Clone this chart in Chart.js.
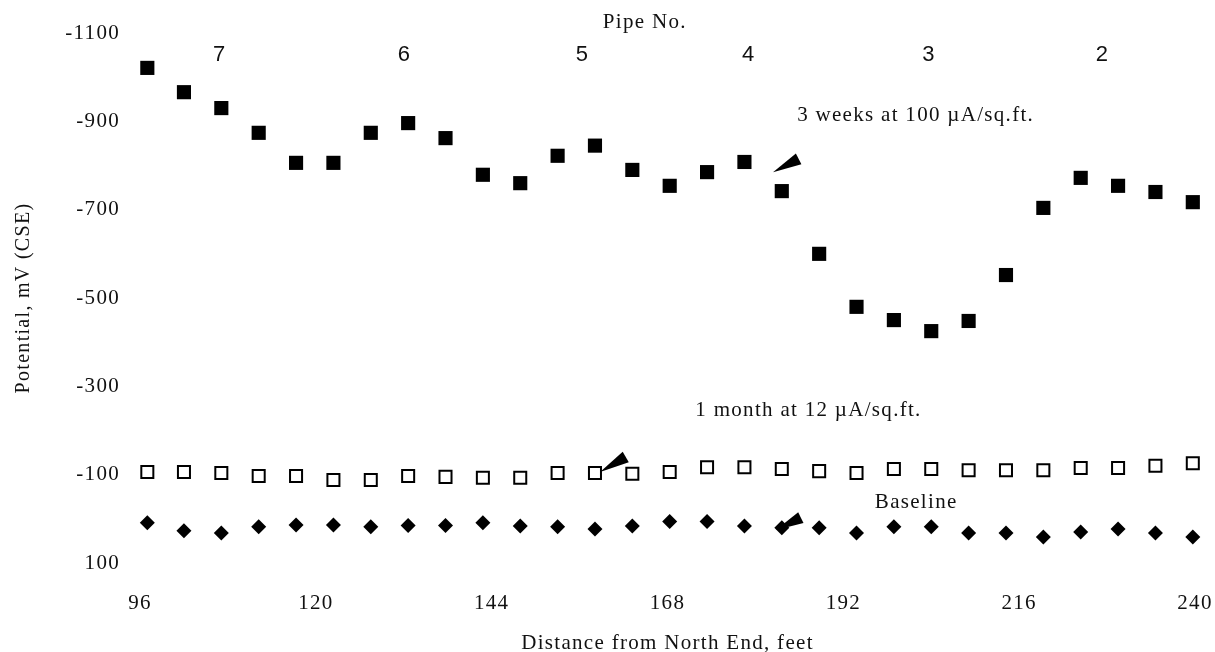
<!DOCTYPE html>
<html>
<head>
<meta charset="utf-8">
<script src="https://cdn.jsdelivr.net/npm/chart.js@4.4.1/dist/chart.umd.min.js"></script>
<style>
  html, body { margin: 0; background: #fff; }
  #wrap { width: 1215px; height: 652px; }
</style>
</head>
<body>
<div id="wrap"><canvas id="chart"></canvas></div>
<script>
// distance from north end (ft) for each reading
const distance = [97, 102, 107.1, 112.2, 117.3, 122.4, 127.5, 132.6, 137.7, 142.8,
                  147.9, 153, 158.1, 163.2, 168.3, 173.4, 178.5, 183.6, 188.7, 193.8,
                  198.9, 204, 209.1, 214.2, 219.3, 224.4, 229.5, 234.6, 239.7];

// potentials, mV (CSE)
const weeks3 = [-1021, -966, -930, -874, -806, -806, -874, -896, -862, -779,
                -760, -822, -845, -790, -754, -785, -808, -742, -600, -480,
                -450, -425, -448, -552, -704, -772, -754, -740, -717];
const month1 = [-106, -106, -104, -97, -97, -88, -88, -97, -95, -93,
                -93, -104, -104, -102, -106, -117, -117, -113, -108, -104,
                -113, -113, -110, -110, -110, -115, -115, -120, -126];
const baseline = [9, 27, 32, 18, 14, 14, 18, 15, 15, 9,
                  16, 18, 23, 16, 6, 6, 16, 20, 20, 32,
                  18, 18, 32, 32, 41, 30, 23, 32, 41];

// pipe numbers along the top
const pipeNos = ['7', '6', '5', '4', '3', '2'];
const pipeCentres = [106.8, 132, 156.3, 179, 203.6, 227.3];

// 🟢 text notes and arrowheads, in data units
const notes = [
  { text: '3 weeks at 100 \u00b5A/sq.ft.', x: 185.7, y: -914 },
  { text: '1 month at 12 \u00b5A/sq.ft.', x: 171.8, y: -246 },
  { text: 'Baseline', x: 196.3, y: -38 }
];
const arrows = [
  { from: [185.9, -815], to: [182.4, -785] },
  { from: [162.3, -140], to: [158.8, -106] },
  { from: [186.2, -3], to: [182.8, 25] }
];

const serif = '"Liberation Serif", "Times New Roman", serif';
const sans = '"Liberation Sans", Arial, sans-serif';
const spacing = '1.3px';

function toPoints(ys) {
  return ys.map((y, i) => ({ x: distance[i], y }));
}

// 🟢 the scanned figure has wide serif lettering
const spacingPlugin = {
  id: 'spacing',
  beforeUpdate(chart) { chart.ctx.letterSpacing = spacing; },
  beforeDraw(chart) { chart.ctx.letterSpacing = spacing; }
};

// 🟢 draws pipe numbers, notes and arrows over the plot
const notesPlugin = {
  id: 'notes',
  afterDraw(chart) {
    const { ctx, scales: { x, y } } = chart;
    ctx.save();
    ctx.fillStyle = '#111';
    ctx.textBaseline = 'middle';

    ctx.font = '21px ' + serif;
    ctx.textAlign = 'center';
    ctx.fillText('Pipe No.', x.getPixelForValue(164.9), y.getPixelForValue(-1123));

    ctx.letterSpacing = '0px';
    ctx.font = '22px ' + sans;
    pipeNos.forEach((n, i) => {
      ctx.fillText(n, x.getPixelForValue(pipeCentres[i]), y.getPixelForValue(-1050));
    });

    ctx.letterSpacing = spacing;
    ctx.font = '21px ' + serif;
    ctx.textAlign = 'left';
    notes.forEach(n => {
      ctx.fillText(n.text, x.getPixelForValue(n.x), y.getPixelForValue(n.y));
    });

    ctx.fillStyle = '#000';
    arrows.forEach(a => {
      const x0 = x.getPixelForValue(a.from[0]), y0 = y.getPixelForValue(a.from[1]);
      const x1 = x.getPixelForValue(a.to[0]), y1 = y.getPixelForValue(a.to[1]);
      const ang = Math.atan2(y1 - y0, x1 - x0);
      const len = Math.hypot(x1 - x0, y1 - y0);
      const half = 6;
      const bx = x1 - Math.cos(ang) * len, by = y1 - Math.sin(ang) * len;
      ctx.beginPath();
      ctx.moveTo(x1, y1);
      ctx.lineTo(bx + Math.sin(ang) * half, by - Math.cos(ang) * half);
      ctx.lineTo(bx - Math.sin(ang) * half, by + Math.cos(ang) * half);
      ctx.closePath();
      ctx.fill();
    });
    ctx.restore();
  }
};

new Chart(document.getElementById('chart'), {
  type: 'scatter',
  data: {
    datasets: [
      {
        label: '3 weeks at 100 \u00b5A/sq.ft.',
        data: toPoints(weeks3),
        pointStyle: 'rect',
        pointRadius: 10,
        backgroundColor: '#000',
        borderColor: '#000',
        borderWidth: 0,
        clip: false
      },
      {
        label: '1 month at 12 \u00b5A/sq.ft.',
        data: toPoints(month1),
        pointStyle: 'rect',
        pointRadius: 8.5,
        backgroundColor: '#fff',
        borderColor: '#000',
        borderWidth: 2,
        clip: false
      },
      {
        label: 'Baseline',
        data: toPoints(baseline),
        pointStyle: 'rectRot',
        pointRadius: 7.5,
        backgroundColor: '#000',
        borderColor: '#000',
        borderWidth: 0,
        clip: false
      }
    ]
  },
  options: {
    responsive: true,
    maintainAspectRatio: false,
    animation: false,
    layout: { padding: { top: 33, right: 20, left: 12, bottom: 0 } },
    plugins: {
      legend: { display: false },
      tooltip: { enabled: false }
    },
    scales: {
      x: {
        type: 'linear',
        min: 96,
        max: 240,
        grid: { display: false, drawTicks: false },
        border: { display: false },
        ticks: {
          stepSize: 24,
          padding: 28,
          color: '#111',
          font: { family: serif, size: 21 }
        },
        title: {
          display: true,
          text: 'Distance from North End, feet',
          color: '#111',
          font: { family: serif, size: 21 },
          padding: { top: 8, bottom: -4 }
        },
        afterFit(scale) {
          scale.height = 89;
          scale.paddingLeft = 0;
          scale.paddingRight = 0;
        }
      },
      y: {
        type: 'linear',
        reverse: true,
        min: -1100,
        max: 100,
        grid: { display: false, drawTicks: false },
        border: { display: false },
        ticks: {
          stepSize: 200,
          padding: 20,
          color: '#111',
          font: { family: serif, size: 21 },
          callback: v => String(v)
        },
        title: {
          display: true,
          text: 'Potential, mV (CSE)',
          color: '#111',
          font: { family: serif, size: 20 },
          padding: { top: 0, bottom: 0 }
        },
        afterFit(scale) {
          scale.width = 128;
          scale.paddingTop = 0;
          scale.paddingBottom = 0;
        }
      }
    }
  },
  plugins: [spacingPlugin, notesPlugin]
});
</script>
</body>
</html>
